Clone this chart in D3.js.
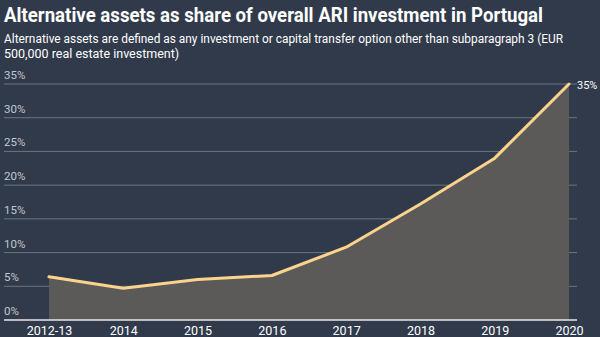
<!DOCTYPE html>
<html>
<head>
<meta charset="utf-8">
<script src="https://cdn.jsdelivr.net/npm/d3@7"></script>
<style>
  html, body { margin: 0; padding: 0; background: #303a4a; }
  svg { display: block; font-family: Roboto, sans-serif; }
</style>
</head>
<body>
<div id="chart"></div>
<script>
const years = ["2012-13", "2014", "2015", "2016", "2017", "2018", "2019", "2020"];
const shares = [6.4, 4.7, 6.0, 6.6, 10.8, 17.2, 24.0, 35.0];
const yTicks = [0, 5, 10, 15, 20, 25, 30, 35];

const width = 600, height = 337;
const margin = { top: 84, right: 31, bottom: 17, left: 49 };

const svg = d3.select("#chart").append("svg")
  .attr("width", width)
  .attr("height", height);

svg.append("rect").attr("width", width).attr("height", height).attr("fill", "#303a4a");

// Title and subtitle
svg.append("text")
  .attr("x", 4).attr("y", 22)
  .attr("fill", "#ffffff")
  .attr("font-size", 20)
  .attr("font-weight", 700)
  .attr("textLength", 539)
  .attr("lengthAdjust", "spacingAndGlyphs")
  .text("Alternative assets as share of overall ARI investment in Portugal");

const sub = svg.append("g").attr("fill", "#ffffff").attr("font-size", 12.5);
sub.append("text").attr("x", 4).attr("y", 43)
  .attr("textLength", 559).attr("lengthAdjust", "spacingAndGlyphs")
  .text("Alternative assets are defined as any investment or capital transfer option other than subparagraph 3 (EUR");
sub.append("text").attr("x", 4).attr("y", 58)
  .text("500,000 real estate investment)");

const x = d3.scalePoint()
  .domain(years)
  .range([margin.left, width - margin.right]);

const y = d3.scaleLinear()
  .domain([0, 35])
  .range([height - margin.bottom, margin.top]);

// Grid lines and y labels
const grid = svg.append("g");
grid.selectAll("line")
  .data(yTicks.filter(d => d > 0))
  .join("line")
  .attr("x1", 4).attr("x2", 577)
  .attr("y1", d => y(d)).attr("y2", d => y(d))
  .attr("stroke", "#6d7480")
  .attr("stroke-width", 1);

grid.selectAll("text")
  .data(yTicks)
  .join("text")
  .attr("x", 4)
  .attr("y", d => y(d) - 5)
  .attr("fill", "#c3c7cd")
  .attr("font-size", 11.5)
  .text(d => d + "%");

// Area under the line
const area = d3.area()
  .x((d, i) => x(years[i]))
  .y0(y(0))
  .y1(d => y(d));

svg.append("path")
  .datum(shares)
  .attr("d", area)
  .attr("fill", "#5b5a59");

// Baseline
svg.append("line")
  .attr("x1", 4).attr("x2", 577)
  .attr("y1", y(0)).attr("y2", y(0))
  .attr("stroke", "#e8e8e8")
  .attr("stroke-width", 1.5);

// Line
const line = d3.line()
  .x((d, i) => x(years[i]))
  .y(d => y(d));

svg.append("path")
  .datum(shares)
  .attr("d", line)
  .attr("fill", "none")
  .attr("stroke", "#fcd38c")
  .attr("stroke-width", 3)
  .attr("stroke-linejoin", "round")
  .attr("stroke-linecap", "round");

// End label
svg.append("text")
  .attr("x", x(years[years.length - 1]) + 8)
  .attr("y", y(shares[shares.length - 1]) + 5)
  .attr("fill", "#ffffff")
  .attr("font-size", 11)
  .text(shares[shares.length - 1] + "%");

// X axis labels
const gx = svg.append("g")
  .attr("transform", `translate(0,${y(0) + 6})`)
  .call(d3.axisBottom(x).tickSize(0).tickPadding(0));
gx.select(".domain").remove();
gx.selectAll("text")
  .attr("fill", "#ffffff")
  .attr("font-size", 12.5)
  .attr("font-family", "Roboto, sans-serif");
</script>
</body>
</html>
